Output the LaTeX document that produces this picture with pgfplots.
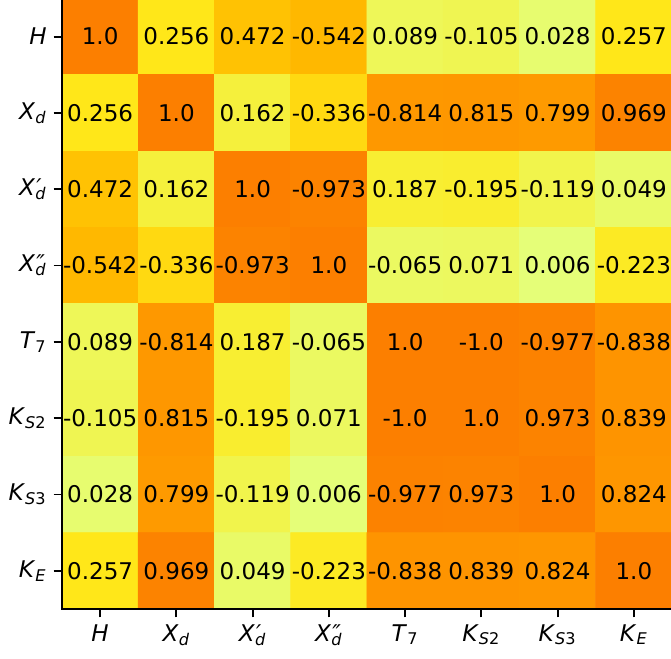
\documentclass[border=0pt]{standalone}
\usepackage{pgfplots}
\usepackage{pgfplotstable}
\usepackage{fontspec}
\setmainfont{DejaVu Sans}
\pgfplotsset{compat=1.18}
\newcommand{\sym}[3]{\textit{#1}\rlap{\kern0.05em\textit{#2}}\textsubscript{#3}}
\pgfplotstableread{
x y v txt
0 0 1.0 1.0
1 0 0.256 0.256
2 0 0.472 0.472
3 0 -0.542 -0.542
4 0 0.089 0.089
5 0 -0.105 -0.105
6 0 0.028 0.028
7 0 0.257 0.257
0 1 0.256 0.256
1 1 1.0 1.0
2 1 0.162 0.162
3 1 -0.336 -0.336
4 1 -0.814 -0.814
5 1 0.815 0.815
6 1 0.799 0.799
7 1 0.969 0.969
0 2 0.472 0.472
1 2 0.162 0.162
2 2 1.0 1.0
3 2 -0.973 -0.973
4 2 0.187 0.187
5 2 -0.195 -0.195
6 2 -0.119 -0.119
7 2 0.049 0.049
0 3 -0.542 -0.542
1 3 -0.336 -0.336
2 3 -0.973 -0.973
3 3 1.0 1.0
4 3 -0.065 -0.065
5 3 0.071 0.071
6 3 0.006 0.006
7 3 -0.223 -0.223
0 4 0.089 0.089
1 4 -0.814 -0.814
2 4 0.187 0.187
3 4 -0.065 -0.065
4 4 1.0 1.0
5 4 -1.0 -1.0
6 4 -0.977 -0.977
7 4 -0.838 -0.838
0 5 -0.105 -0.105
1 5 0.815 0.815
2 5 -0.195 -0.195
3 5 0.071 0.071
4 5 -1.0 -1.0
5 5 1.0 1.0
6 5 0.973 0.973
7 5 0.839 0.839
0 6 0.028 0.028
1 6 0.799 0.799
2 6 -0.119 -0.119
3 6 0.006 0.006
4 6 -0.977 -0.977
5 6 0.973 0.973
6 6 1.0 1.0
7 6 0.824 0.824
0 7 0.257 0.257
1 7 0.969 0.969
2 7 0.049 0.049
3 7 -0.223 -0.223
4 7 -0.838 -0.838
5 7 0.839 0.839
6 7 0.824 0.824
7 7 1.0 1.0
}\corrtable
\begin{document}
\begin{tikzpicture}
\begin{axis}[
  at={(31pt,25pt)}, anchor=south west,
  scale only axis, width=305pt, height=305.3pt,
  xmin=-0.5, xmax=7.5, ymin=-0.5, ymax=7.5,
  y dir=reverse,
  axis line style={line width=0.95pt},
  xtick={0,...,7}, ytick={0,...,7},
  xticklabels={\textit{H}, \sym{X}{}{\textit{d}}, \sym{X}{′}{\textit{d}}, \sym{X}{″}{\textit{d}}, \sym{T}{}{7}, \sym{K}{}{\textit{S}2}, \sym{K}{}{\textit{S}3}, \sym{K}{}{\textit{E}}},
  yticklabels={\textit{H}, \sym{X}{}{\textit{d}}, \sym{X}{′}{\textit{d}}, \sym{X}{″}{\textit{d}}, \sym{T}{}{7}, \sym{K}{}{\textit{S}2}, \sym{K}{}{\textit{S}3}, \sym{K}{}{\textit{E}}},
  tick align=outside, tick pos=left,
  major tick length=4.15pt,
  tick style={line width=0.95pt, black},
  ticklabel style={font=\fontsize{11.5}{13}\selectfont},
  colormap={wistia}{rgb255(0)=(228,255,122) rgb255(1)=(255,232,26) rgb255(2)=(255,189,0) rgb255(3)=(255,160,0) rgb255(4)=(252,127,0)},
  point meta min=0, point meta max=1,
  axis on top,
]
\addplot[matrix plot*, mesh/cols=8, mesh/ordering=x varies, point meta={abs(\thisrow{v})}] table[x=x, y=y] {\corrtable};
\addplot[draw=none, mark=none, nodes near coords, point meta=explicit symbolic,
  every node near coord/.append style={anchor=center, font=\fontsize{11.5}{13}\selectfont, text=black}]
  table[x=x, y=y, meta=txt] {\corrtable};
\end{axis}
\pgfresetboundingbox
\path[use as bounding box] (0,0) rectangle (335.5pt,329.5pt);
\end{tikzpicture}
\end{document}
